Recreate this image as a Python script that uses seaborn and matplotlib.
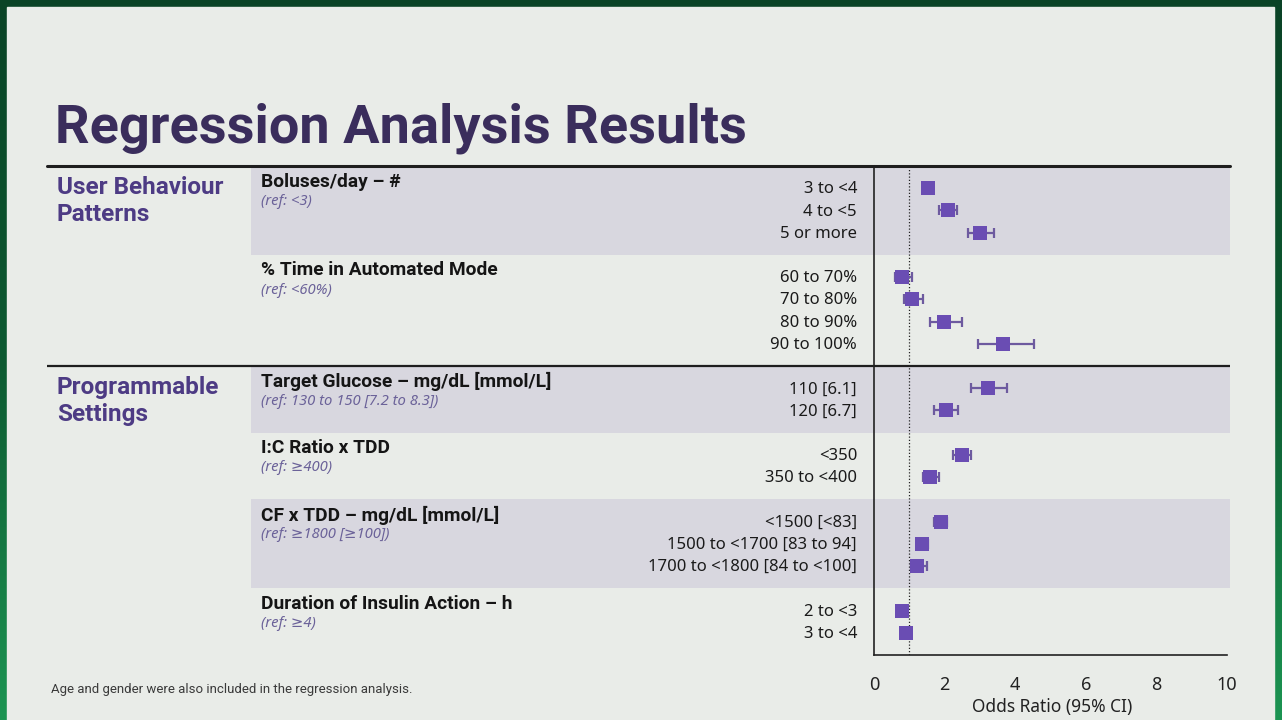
import numpy as np
import pandas as pd
import seaborn as sns
import matplotlib.pyplot as plt
from matplotlib.patches import Rectangle
from matplotlib.colors import LinearSegmentedColormap

# data
sections = ["User Behaviour\nPatterns", "Programmable\nSettings"]
section_sizes = [2, 4]   # groups per section
groups = ["Boluses/day – #", "% Time in Automated Mode",
          "Target Glucose – mg/dL [mmol/L]", "I:C Ratio x TDD",
          "CF x TDD – mg/dL [mmol/L]", "Duration of Insulin Action – h"]
refs = ["(ref: <3)", "(ref: <60%)", "(ref: 130 to 150 [7.2 to 8.3])",
        "(ref: ≥400)", "(ref: ≥1800 [≥100])", "(ref: ≥4)"]
group_sizes = [3, 4, 2, 2, 3, 2]
shaded = [True, False, True, False, True, False]
row_labels = ["3 to <4", "4 to <5", "5 or more",
              "60 to 70%", "70 to 80%", "80 to 90%", "90 to 100%",
              "110 [6.1]", "120 [6.7]",
              "<350", "350 to <400",
              "<1500 [<83]", "1500 to <1700 [83 to 94]", "1700 to <1800 [84 to <100]",
              "2 to <3", "3 to <4"]
odds = [1.53, 2.10, 3.00, 0.79, 1.08, 1.99, 3.65, 3.22, 2.03, 2.50, 1.58,
        1.89, 1.37, 1.22, 0.78, 0.90]
ci_low = [1.45, 1.84, 2.66, 0.59, 0.84, 1.59, 2.94, 2.76, 1.71, 2.24, 1.40,
          1.70, 1.22, 1.05, 0.72, 0.84]
ci_high = [1.62, 2.35, 3.39, 1.07, 1.38, 2.49, 4.53, 3.76, 2.38, 2.75, 1.83,
           2.08, 1.52, 1.50, 0.84, 0.96]

# row slots: one empty slot before each group
pos, starts, slot = [], [], -1
for n in group_sizes:
    slot += 1
    starts.append(slot)
    pos.extend(range(slot, slot + n))
    slot += n
df = pd.DataFrame({"label": row_labels, "odds": odds, "lo": ci_low, "hi": ci_high, "pos": pos})

W, H = 1282, 720
BG = "#e9ece8"
BAND = "#d8d7df"
PURPLE = "#6a4db3"
TITLE = "#3a2d5c"
SECT = "#4d3b84"
REF = "#6b6299"
BOLD = ["Roboto", "DejaVu Sans"]

sns.set_style("white")
plt.rcParams["font.family"] = ["Noto Sans", "DejaVu Sans"]

fig = plt.figure(figsize=(W / 100, H / 100), dpi=100)

def fbox(x0, y0, x1, y1):
    return [x0 / W, 1 - y1 / H, (x1 - x0) / W, (y1 - y0) / H]

# green frame + slide
bg = fig.add_axes([0, 0, 1, 1])
grad = np.linspace(0, 1, 256).reshape(-1, 1)
gcm = LinearSegmentedColormap.from_list("g", ["#0a4326", "#0d5a31", "#1c9452"])
bg.imshow(grad, aspect="auto", cmap=gcm, extent=[0, W, H, 0])
bg.add_patch(Rectangle((7, 7), 1267, 713, color=BG, zorder=2))
bg.set_xlim(0, W)
bg.set_ylim(H, 0)
bg.axis("off")

y_top, y_bot = -1, slot
ax_l = fig.add_axes(fbox(47, 166, 874, 655))
ax = fig.add_axes(fbox(874, 166, 1230, 655), sharey=ax_l)
for a in (ax_l, ax):
    a.set_facecolor("none")
ax_l.set_xlim(47, 874)
ax.set_xlim(0, 10 * 356 / 353)
ax.set_ylim(y_bot, y_top)

# bands and separators
for i, n in enumerate(group_sizes):
    if shaded[i]:
        a0, a1 = starts[i] - 1, starts[i] + n
        ax_l.axhspan(a0, a1, xmin=(251 - 47) / (874 - 47), xmax=1, color=BAND, lw=0, zorder=0)
        ax.axhspan(a0, a1, color=BAND, lw=0, zorder=0)
sep = starts[sum(section_sizes[:1])] - 1
for a in (ax_l, ax):
    a.axhline(y_top, color="#1e1e1e", lw=2.2, zorder=3, clip_on=False)
    a.axhline(sep, color="#1e1e1e", lw=1.6, zorder=3)

# left text panel
gi = 0
for s, ns in zip(sections, section_sizes):
    first = starts[gi]
    for k, line in enumerate(s.split("\n")):
        ax_l.text(57, first - 0.05 + k * 1.25, line, color=SECT, fontsize=17.5,
                  fontweight="bold", va="center", ha="left", family=BOLD)
    gi += ns
for i, (g, r) in enumerate(zip(groups, refs)):
    ax_l.text(261, starts[i] - 0.3, g, fontsize=13.8, fontweight="bold",
              color="#151515", va="center", ha="left", family=BOLD)
    ax_l.text(261, starts[i] + 0.58, r, fontsize=10.7, style="italic",
              color=REF, va="center", ha="left")
for lab, p in zip(df["label"], df["pos"]):
    ax_l.text(857, p + 0.05, lab, fontsize=12, color="#1a1a1a", va="center", ha="right")
ax_l.axis("off")

# forest plot
ax.errorbar(df["odds"], df["pos"], xerr=[df["odds"] - df["lo"], df["hi"] - df["odds"]],
            fmt="none", ecolor="#6d5a9f", elinewidth=1.6, capsize=3.5, capthick=1.6, zorder=4)
sns.scatterplot(data=df, x="odds", y="pos", marker="s", s=110, color=PURPLE,
                edgecolor=PURPLE, linewidth=0, ax=ax, zorder=5, legend=False)
ax.axvline(1, color="#222222", lw=0.9, ls=(0, (1, 1.6)), zorder=2)
ax.set_ylim(y_bot, y_top)

for side in ("top", "right"):
    ax.spines[side].set_visible(False)
ax.spines["left"].set_color("#222222")
ax.spines["bottom"].set_color("#222222")
ax.spines["left"].set_linewidth(1.2)
ax.spines["bottom"].set_linewidth(1.2)
ax.spines["bottom"].set_bounds(0, 10)
ax.set_xticks(range(0, 11, 2))
ax.set_yticks([])
ax.tick_params(axis="x", direction="out", length=7, width=1.2, color="#222222",
               labelsize=13, labelcolor="#222222", pad=8)
ax.set_xlabel("Odds Ratio (95% CI)", fontsize=12.5, color="#222222", labelpad=3)
ax.set_ylabel("")

fig.text(55 / W, 1 - 142 / H, "Regression Analysis Results", fontsize=39,
         fontweight="bold", color=TITLE, va="baseline", ha="left", family=BOLD)
fig.text(51 / W, 1 - 690 / H, "Age and gender were also included in the regression analysis.",
         fontsize=9.5, color="#3a3a3a", va="center", ha="left", family=["Roboto", "DejaVu Sans"])

fig.savefig("out.png", dpi=100, facecolor=BG)
